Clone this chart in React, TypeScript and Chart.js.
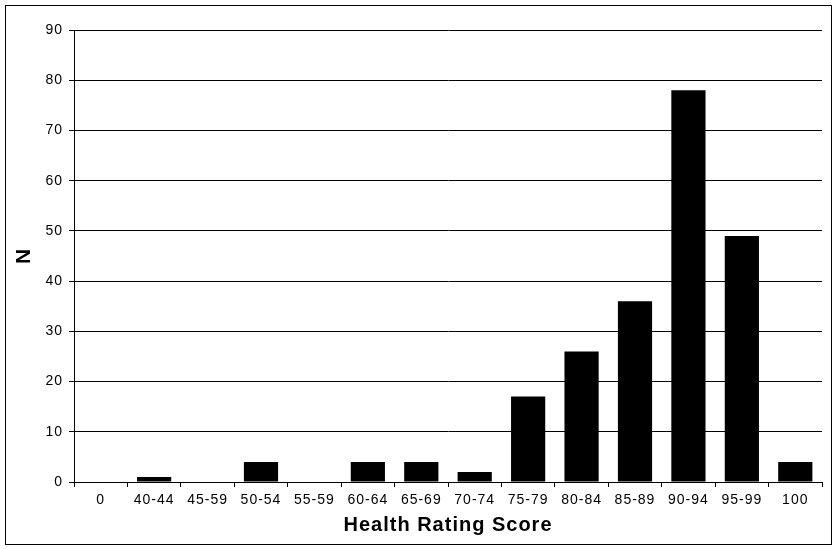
import React, { useEffect, useRef } from "react";
import { Chart, registerables } from "chart.js";

Chart.register(...registerables);

const categories = ["0", "40-44", "45-59", "50-54", "55-59", "60-64", "65-69", "70-74", "75-79", "80-84", "85-89", "90-94", "95-99", "100"];
const counts = [0, 1, 0, 4, 0, 4, 4, 2, 17, 26, 36, 78, 49, 4];
const yTitle = "N";
const xTitle = "Health Rating Score";

const FONT = "'Liberation Sans', Arial, sans-serif";

const framePlugin = {
  id: "frame",
  beforeDraw(chart: any) {
    const ctx = chart.ctx;
    (ctx as any).letterSpacing = "1px";
    ctx.save();
    ctx.fillStyle = "#ffffff";
    ctx.fillRect(0, 0, chart.width, chart.height);
    ctx.strokeStyle = "#000000";
    ctx.lineWidth = 1;
    ctx.strokeRect(5.5, 5.5, 826, 539);
    ctx.restore();
  },
};

export default function App() {
  const ref = useRef<HTMLCanvasElement | null>(null);
  useEffect(() => {
    document.body.style.margin = "0";
    if (!ref.current) return;
    const chart = new Chart(ref.current, {
      type: "bar",
      data: {
        labels: categories,
        datasets: [
          {
            data: counts,
            backgroundColor: "#000000",
            borderWidth: 0,
            categoryPercentage: 1,
            barPercentage: 0.64,
          },
        ],
      },
      options: {
        responsive: false,
        animation: false,
        devicePixelRatio: 1,
        layout: { padding: { left: 0, top: 30, right: 16, bottom: 0 } },
        plugins: { legend: { display: false }, tooltip: { enabled: false } },
        scales: {
          x: {
            grid: { offset: true, drawOnChartArea: false, drawTicks: true, tickLength: 5, color: "#000000", lineWidth: 1 },
            border: { display: true, color: "#000000", width: 1 },
            ticks: { color: "#000000", font: { family: FONT, size: 14 }, padding: 5, maxRotation: 0, autoSkip: false },
            title: { display: true, text: xTitle, color: "#000000", font: { family: FONT, size: 20, weight: "bold" }, padding: { top: 0, bottom: 12 } },
            afterFit(scale: any) { scale.height = 67; },
          },
          y: {
            min: 0,
            max: 90,
            ticks: { stepSize: 10, color: "#000000", font: { family: FONT, size: 14 }, padding: 6 },
            grid: { color: "#000000", lineWidth: 1, tickLength: 5 },
            border: { display: true, color: "#000000", width: 1 },
            title: { display: true, text: yTitle, color: "#000000", font: { family: FONT, size: 21, weight: "bold" }, padding: { top: 12, bottom: 0 } },
            afterFit(scale: any) { scale.width = 74; },
          },
        },
      },
      plugins: [framePlugin],
    } as any);
    return () => chart.destroy();
  }, []);
  return <canvas ref={ref} width={838} height={549} style={{ display: "block", width: 838, height: 549 }} />;
}
